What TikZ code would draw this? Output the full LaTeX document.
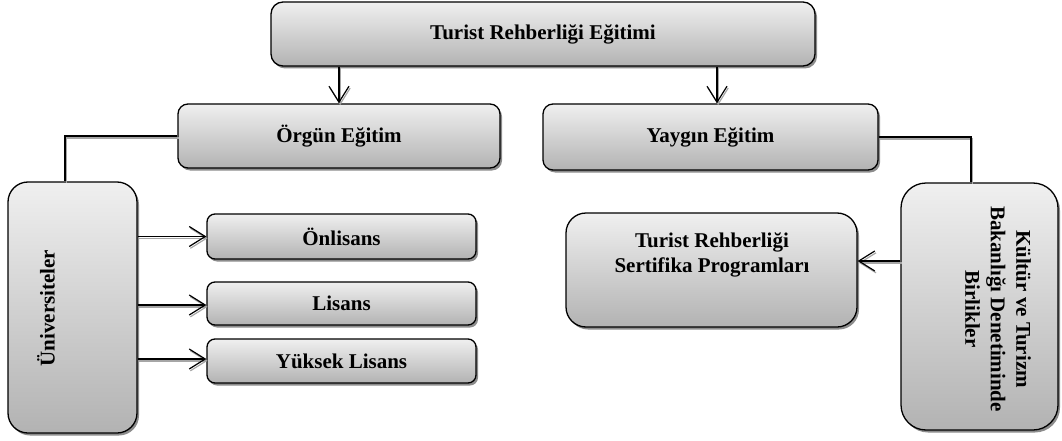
\documentclass[tikz,border=0pt]{standalone}
\usepackage{fontspec}
\setmainfont{Liberation Serif}
\usetikzlibrary{arrows.meta,shadows}
\begin{document}
\begin{tikzpicture}[x=1pt,y=-1pt,
  box/.style={draw=black, line width=1.3pt, rounded corners=#1, top color=black!6, bottom color=black!30,
    drop shadow={shadow xshift=2pt, shadow yshift=-2.5pt, fill=black!45, opacity=1},
    inner sep=0pt, align=center, font=\fontsize{21}{26}\selectfont\bfseries},
  box/.default=10pt,
  lbl/.style={inner sep=0pt, align=center, font=\fontsize{21}{25.5}\selectfont\bfseries},
  conn/.style={draw=black, line width=1.2pt,
    preaction={draw=black!35, line width=1.4pt, transform canvas={shift={(1.2pt,-1.8pt)}}}},
  arr/.style={conn, -{Straight Barb[length=16pt,width=20pt,line width=1.2pt]}}
]
\useasboundingbox (0,0) rectangle (1062,441);

\node[box=12pt, minimum width=544pt, minimum height=64pt] (top) at (543,34) {Turist Rehberliği Eğitimi};
\node[box, minimum width=322pt, minimum height=64pt] (org) at (339,136) {Örgün Eğitim};
\node[box, minimum width=335pt, minimum height=66pt] (yay) at (710.5,137) {Yaygın Eğitim};

\node[box=20pt, minimum width=129pt, minimum height=251pt] (uni) at (72.5,307.5) {};
\node[lbl, rotate=90] (unit) at (46,308) {Üniversiteler};

\node[box=8pt, minimum width=269pt, minimum height=45pt] (onl) at (341.5,236.5) {Önlisans};
\node[box=8pt, minimum width=269pt, minimum height=43pt] (lis) at (341.5,303.5) {Lisans};
\node[box=8pt, minimum width=269pt, minimum height=44pt] (yuk) at (341.5,361) {Yüksek Lisans};

\node[box=20pt, minimum width=291pt, minimum height=114pt] (sert) at (711.5,270) {};
\node[lbl] (sertt) at (712,255) {Turist Rehberliği\\Sertifika Programları};

\node[box=25pt, minimum width=157pt, minimum height=247pt] (kul) at (979.5,306.5) {};
\node[lbl, rotate=-90] (kult) at (998,309) {Kültür ve Turizm\\Bakanlığı Denetiminde\\Birlikler};

% arrows from top
\draw[arr] (top.south -| org.north) -- (org.north);
\coordinate (ya) at ([xshift=6.5pt]yay.north);
\draw[arr] (top.south -| ya) -- (ya);

% elbow connectors
\coordinate (u1) at ([xshift=-7.5pt]uni.north);
\draw[conn] (org.west) -| (u1);
\coordinate (k1) at ([xshift=-8.5pt]kul.north);
\draw[conn] (yay.east) -| (k1);

% university arrows
\draw[arr] (uni.east |- onl.west) -- (onl.west);
\coordinate (l1) at ([yshift=-1.5pt]lis.west);
\draw[arr] (uni.east |- l1) -- (l1);
\coordinate (y1) at ([yshift=2pt]yuk.west);
\draw[arr] (uni.east |- y1) -- (y1);

% certificate arrow
\path (sert.east) ++(0,-9) coordinate (se);
\draw[arr] (kul.west |- se) -- (se);
\end{tikzpicture}
\end{document}
